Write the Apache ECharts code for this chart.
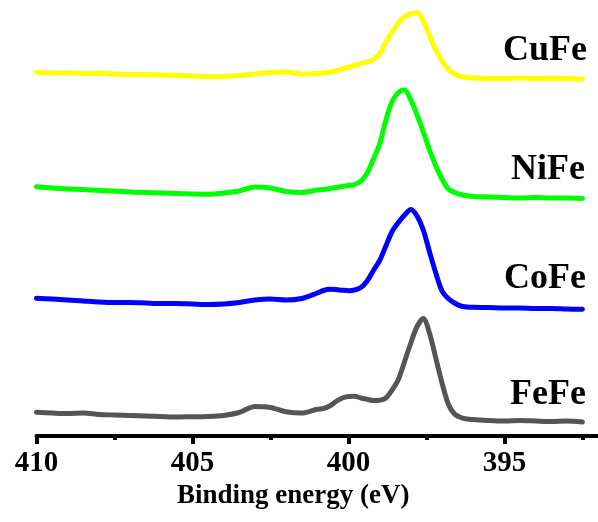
<!DOCTYPE html>
<html>
<head>
<meta charset="utf-8">
<script src="https://cdn.jsdelivr.net/npm/echarts@6/dist/echarts.min.js"></script>
<style>
  html, body { margin: 0; padding: 0; background: #fff; }
  #chart { width: 598px; height: 522px; }
</style>
</head>
<body>
<div id="chart"></div>
<script>
// binding energy (eV), shared by all four spectra
var energy = [410, 409.5, 409, 408.5, 408, 407.5, 407, 406.5, 406, 405.5, 405, 404.5, 404, 403.5, 403, 402.5,
    402, 401.5, 401, 400.8, 400.6, 400.4, 400.2, 400, 399.8, 399.6, 399.4, 399.2, 399, 398.8, 398.6, 398.4,
    398.2, 398, 397.8, 397.6, 397.4, 397.2, 397, 396.8, 396.6, 396.4, 396.2, 396, 395.5, 395, 394.5, 394,
    393.5, 393, 392.5];

// intensity (a.u.), spectra already stacked with an offset
var cuFe = [365.7, 365, 365.3, 364.5, 364.7, 364, 363.5, 363.5, 363, 362.5, 362, 361.5, 361.5, 362.5, 364, 365.5,
    366, 364, 364.5, 365, 366, 367, 369, 371, 372.5, 374.5, 376, 378.5, 384, 396, 406, 415,
    421.5, 424, 425.5, 417, 402, 388, 377, 369, 364, 361.5, 360.5, 360, 359.5, 359.5, 360, 359.5,
    359.5, 359.5, 359];

var niFe = [251.3, 250, 249, 248.5, 247.5, 247, 246, 245.5, 245, 244.5, 244, 243.7, 245, 247, 251, 250,
    246.5, 245.5, 248, 248.5, 249.5, 250.5, 251.5, 252.5, 253.5, 257, 265, 279, 294, 318, 336.5, 345.5,
    348, 338, 323, 306, 288, 272, 259, 249, 245.5, 243.5, 242.2, 241.5, 241, 240.5, 240, 240.5,
    240, 240, 239.5];

var coFe = [139.7, 139, 138, 137, 136, 135.5, 135.5, 135, 134.5, 134.5, 134, 133.5, 134, 135.5, 138, 139,
    138, 139.5, 145, 147.5, 148.7, 148.5, 147.8, 147.3, 148, 150.5, 157, 167.5, 177.5, 192, 206.5, 215.5,
    223, 228.5, 222, 208, 186, 165, 147, 139.5, 135, 132, 131, 130.7, 130.5, 130, 130, 129.5,
    129.5, 129, 128.7];

var feFe = [25.7, 25, 24.5, 25, 23.5, 23, 22.5, 22, 21.5, 21, 21.3, 21.5, 22.5, 25.5, 31.5, 30.5,
    26.3, 25, 28.7, 29.5, 32, 36.5, 40, 41.5, 41.8, 40, 38.7, 37.5, 37.8, 40, 48, 58.5,
    76.5, 95, 111.5, 119.5, 104.7, 80, 55, 34, 24, 20.5, 19, 18.5, 17.5, 17, 17.5, 17,
    16.5, 17, 16];

var majorTicks = [395, 400, 405, 410];
var minorTicks = [392.5, 397.5, 402.5, 407.5];

var serif = '"Liberation Serif", "Times New Roman", serif';

var dom = document.getElementById("chart");
var myChart = echarts.init(dom);

function curve(name, values, color) {
    return {
        name: name,
        type: 'line',
        data: energy.map(function (e, i) { return [e, values[i]]; }),
        showSymbol: false,
        smooth: 0.3,
        lineStyle: { color: color, width: 5, cap: 'round', join: 'round' }
    };
}

function tag(text, x, y) {
    return {
        type: 'text',
        style: {
            text: text, x: x, y: y,
            textAlign: 'right', textVerticalAlign: 'middle',
            font: 'bold 36px ' + serif, fill: '#000'
        }
    };
}

option = {
    animation: false,
    grid: { left: 36.5, right: 0, top: 0, bottom: 86 },
    xAxis: [
        {
            type: 'value',
            min: 392,
            max: 410,
            inverse: true,
            position: 'bottom',
            name: 'Binding energy (eV)',
            nameLocation: 'middle',
            nameGap: 44,
            nameTextStyle: {
                fontFamily: serif, fontWeight: 'bold', fontSize: 27, color: '#000',
                padding: [0, 48, 0, 0]
            },
            axisLine: { onZero: false, lineStyle: { color: '#000', width: 4 } },
            axisTick: { customValues: majorTicks, length: 8, lineStyle: { color: '#000', width: 4 } },
            axisLabel: {
                customValues: majorTicks, margin: 13,
                fontFamily: serif, fontWeight: 'bold', fontSize: 29, color: '#000'
            },
            splitLine: { show: false }
        },
        {
            type: 'value',
            min: 392,
            max: 410,
            inverse: true,
            position: 'bottom',
            axisLine: { show: false, onZero: false },
            axisTick: { customValues: minorTicks, length: 4, lineStyle: { color: '#000', width: 4 } },
            axisLabel: { show: false },
            splitLine: { show: false }
        }
    ],
    yAxis: {
        type: 'value',
        min: 2,
        max: 438,
        show: false
    },
    series: [
        curve('CuFe', cuFe, '#ffff00'),
        curve('NiFe', niFe, '#00ff00'),
        curve('CoFe', coFe, '#0000ff'),
        curve('FeFe', feFe, '#555555')
    ],
    graphic: [
        tag('CuFe', 587, 51),
        tag('NiFe', 585, 170),
        tag('CoFe', 586, 278.5),
        tag('FeFe', 586, 395)
    ]
};
myChart.setOption(option);
</script>
</body>
</html>
